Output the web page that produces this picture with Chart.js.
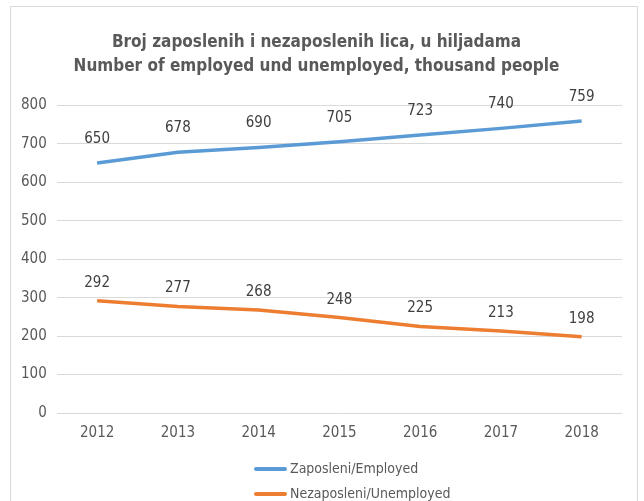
<!DOCTYPE html>
<html>
<head>
<meta charset="utf-8">
<script src="https://cdn.jsdelivr.net/npm/chart.js@4/dist/chart.umd.min.js"></script>
<style>
  html, body { margin: 0; padding: 0; background: #fff; }
  #wrap { position: relative; width: 644px; height: 501px; overflow: hidden; }
  #frame { position: absolute; left: 10px; top: 6px; width: 628px; height: 520px; border: 1px solid #d9d9d9; box-sizing: border-box; }
  #chart { position: absolute; left: 0; top: 0; }
  #legend { position: absolute; left: 254px; top: 456px; font-family: 'DejaVu Sans Condensed', 'Arial Narrow', sans-serif; font-size: 14px; color: #595959; }
  #legend div { height: 25px; line-height: 25px; white-space: nowrap; }
  #legend span.sw { display: inline-block; width: 33px; height: 4px; border-radius: 2px; vertical-align: middle; margin-right: 3px; }
</style>
</head>
<body>
<div id="wrap">
  <div id="frame"></div>
  <canvas id="chart" width="644" height="501"></canvas>
  <div id="legend"></div>
</div>
<script>
const years = ['2012', '2013', '2014', '2015', '2016', '2017', '2018'];
const employed = [650, 678, 690, 705, 723, 740, 759];
const unemployed = [292, 277, 268, 248, 225, 213, 198];
const titleLines = ['Broj zaposlenih i nezaposlenih lica, u hiljadama', 'Number of employed und unemployed, thousand people'];

const FONT = "'DejaVu Sans Condensed', 'Arial Narrow', sans-serif";
const TEXT = '#595959';

// value labels above every point
const valueLabels = {
  id: 'valueLabels',
  afterDatasetsDraw(chart) {
    const ctx = chart.ctx;
    ctx.save();
    ctx.font = '15px ' + FONT;
    ctx.fillStyle = '#404040';
    ctx.textAlign = 'center';
    ctx.textBaseline = 'middle';
    chart.data.datasets.forEach((ds, i) => {
      chart.getDatasetMeta(i).data.forEach((pt, j) => {
        ctx.fillText(ds.data[j], pt.x, pt.y - ds.labelOffset);
      });
    });
    ctx.restore();
  }
};

const chart = new Chart(document.getElementById('chart'), {
  type: 'line',
  data: {
    labels: years,
    datasets: [
      {
        label: 'Zaposleni/Employed',
        data: employed,
        borderColor: '#5b9bd5',
        backgroundColor: '#5b9bd5',
        borderWidth: 3.5,
        pointRadius: 0,
        tension: 0,
        labelOffset: 24,
      },
      {
        label: 'Nezaposleni/Unemployed',
        data: unemployed,
        borderColor: '#ed7d31',
        backgroundColor: '#ed7d31',
        borderWidth: 3.5,
        pointRadius: 0,
        tension: 0,
        labelOffset: 18,
      },
    ],
  },
  options: {
    responsive: false,
    animation: false,
    layout: { padding: { top: 30, left: 11, right: 22, bottom: 56 } },
    plugins: {
      legend: { display: false },
      tooltip: { enabled: false },
      title: {
        display: true,
        text: titleLines,
        color: TEXT,
        font: { family: FONT, size: 17, weight: 'bold', lineHeight: 1.45 },
        padding: { top: 0, bottom: 26 },
      },
    },
    scales: {
      x: {
        offset: true,
        grid: { display: false },
        border: { display: false },
        ticks: { color: TEXT, font: { family: FONT, size: 15 }, padding: 3 },
      },
      y: {
        min: 0,
        max: 800,
        ticks: { stepSize: 100, color: TEXT, font: { family: FONT, size: 15 }, padding: 10 },
        grid: { color: '#d9d9d9', drawTicks: false },
        border: { display: false },
      },
    },
  },
  plugins: [valueLabels],
});

// legend below, one entry per line
const legend = document.getElementById('legend');
chart.data.datasets.forEach(ds => {
  const row = document.createElement('div');
  row.innerHTML = '<span class="sw" style="background:' + ds.borderColor + '"></span>' + ds.label;
  legend.appendChild(row);
});
</script>
</body>
</html>
